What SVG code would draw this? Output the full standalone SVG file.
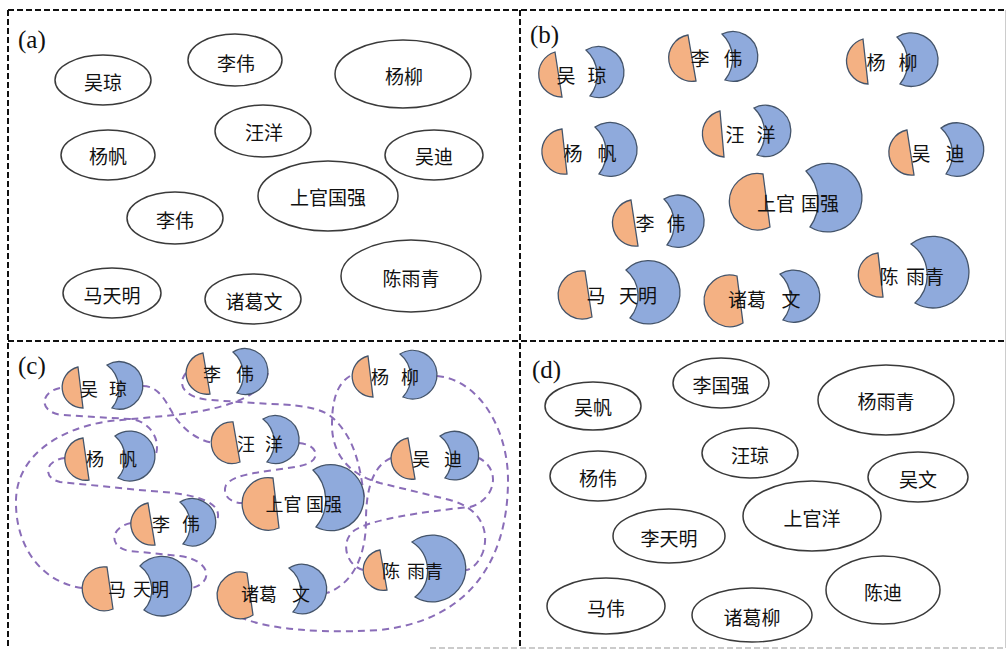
<svg xmlns="http://www.w3.org/2000/svg" width="1007" height="650" viewBox="0 0 1007 650">
<style>
.frame{fill:none;stroke:#111;stroke-width:2;stroke-dasharray:6 3}
.ell{fill:#fff;stroke:#3a3a3a;stroke-width:1.5}
.or{fill:#F4B183;stroke:#44546A;stroke-width:1.3}
.bl{fill:#8FAADC;stroke:#44546A;stroke-width:1.3}
.t{font-family:"Noto Sans CJK SC","Noto Sans",sans-serif;font-size:19px;fill:#111;text-anchor:middle;dominant-baseline:central}
.tc{font-size:18px}
.lab{font-family:"Liberation Serif",serif;font-size:25px;fill:#111}
.link{fill:none;stroke:#8A6DB8;stroke-width:2;stroke-dasharray:7 5}
</style>
<rect width="1007" height="650" fill="#fff"/>
<g id="frame">
<line class="frame" x1="8" y1="10" x2="1005" y2="10"/>
<line class="frame" x1="8" y1="10" x2="8" y2="648"/>
<line class="frame" x1="520" y1="10" x2="520" y2="648"/>
<line class="frame" x1="8" y1="341" x2="1005" y2="341"/>
<line x1="430" y1="648" x2="1005" y2="648" stroke="#bbb" stroke-width="1.5" stroke-dasharray="6 3"/>
<line x1="1005.5" y1="10" x2="1005.5" y2="648" stroke="#ccc" stroke-width="1"/>
</g>
<g id="labels">
<text class="lab" x="18" y="48">(a)</text>
<text class="lab" x="530" y="43">(b)</text>
<text class="lab" x="18" y="374">(c)</text>
<text class="lab" x="532" y="378">(d)</text>
</g>
<g id="panel-a">
<g id="a1"><ellipse class="ell" cx="103" cy="80" rx="48" ry="25"/><text class="t" x="103" y="81">吴琼</text></g>
<g id="a2"><ellipse class="ell" cx="235" cy="60" rx="47" ry="26"/><text class="t" x="236" y="62">李伟</text></g>
<g id="a3"><ellipse class="ell" cx="403" cy="74" rx="68" ry="34"/><text class="t" x="404" y="75">杨柳</text></g>
<g id="a4"><ellipse class="ell" cx="263" cy="131" rx="48" ry="26"/><text class="t" x="264" y="131">汪洋</text></g>
<g id="a5"><ellipse class="ell" cx="108" cy="155" rx="47" ry="25"/><text class="t" x="108" y="155">杨帆</text></g>
<g id="a6"><ellipse class="ell" cx="434" cy="155" rx="49" ry="25"/><text class="t" x="434" y="155">吴迪</text></g>
<g id="a7"><ellipse class="ell" cx="328" cy="196" rx="70" ry="35"/><text class="t" x="328" y="196">上官国强</text></g>
<g id="a8"><ellipse class="ell" cx="175" cy="218" rx="48" ry="26"/><text class="t" x="175" y="219">李伟</text></g>
<g id="a9"><ellipse class="ell" cx="112" cy="293" rx="49" ry="25"/><text class="t" x="112" y="294">马天明</text></g>
<g id="a10"><ellipse class="ell" cx="253" cy="299" rx="48" ry="25"/><text class="t" x="254" y="300">诸葛文</text></g>
<g id="a11"><ellipse class="ell" cx="411" cy="276" rx="70" ry="36"/><text class="t" x="411" y="277">陈雨青</text></g>
</g>
<g id="panel-b">
<g id="b1"><path class="or" d="M555,52 L562,97 A23,23 0 0 1 555,52Z"/><path class="bl" d="M586,50 A25.4,25.4 0 1 1 590,96 A34,34 0 0 0 586,50Z"/><text class="t" x="566" y="74">吴</text><text class="t" x="597" y="74">琼</text></g>
<g id="b2"><path class="or" d="M688,35 L696,81 A23.3,23.3 0 0 1 688,35Z"/><path class="bl" d="M722,34 A24.9,24.9 0 1 1 725,80 A34,34 0 0 0 722,34Z"/><text class="t" x="700" y="57">李</text><text class="t" x="733" y="57">伟</text></g>
<g id="b3"><path class="or" d="M863,39 L868,84 A23,23 0 0 1 863,39Z"/><path class="bl" d="M897,37 A26.8,26.8 0 1 1 900,84 A35,35 0 0 0 897,37Z"/><text class="t" x="876" y="61">杨</text><text class="t" x="908" y="61">柳</text></g>
<g id="b4"><path class="or" d="M562,129 L567,174 A22.6,22.6 0 0 1 562,129Z"/><path class="bl" d="M595,127 A27,27 0 1 1 599,174 A35,35 0 0 0 595,127Z"/><text class="t" x="573" y="152">杨</text><text class="t" x="607" y="152">帆</text></g>
<g id="b5"><path class="or" d="M720,111 L724,157 A23.4,23.4 0 0 1 720,111Z"/><path class="bl" d="M754,108 A25.5,25.5 0 1 1 757,155 A35,35 0 0 0 754,108Z"/><text class="t" x="735" y="133">汪</text><text class="t" x="766" y="133">洋</text></g>
<g id="b6"><path class="or" d="M907,130 L914,175 A22.8,22.8 0 0 1 907,130Z"/><path class="bl" d="M941,128 A26.8,26.8 0 1 1 946,174 A35,35 0 0 0 941,128Z"/><text class="t" x="921" y="152">吴</text><text class="t" x="955" y="152">迪</text></g>
<g id="b7"><path class="or" d="M763,174 L770,227 A28.2,28.2 0 1 1 763,174Z"/><path class="bl" d="M806,171 A34.3,34.3 0 1 1 810,227 A44,44 0 0 0 806,171Z"/><text class="t" x="776" y="202">上官</text><text class="t" x="820" y="202">国强</text></g>
<g id="b8"><path class="or" d="M631,200 L638,246 A23.3,23.3 0 0 1 631,200Z"/><path class="bl" d="M664,199 A26.2,26.2 0 1 1 667,245 A35,35 0 0 0 664,199Z"/><text class="t" x="645" y="222">李</text><text class="t" x="676" y="222">伟</text></g>
<g id="b9"><path class="or" d="M585,271 L592,317 A24.1,24.1 0 1 1 585,271Z"/><path class="bl" d="M626,270 A31.6,31.6 0 1 1 630,318 A34,34 0 0 0 626,270Z"/><text class="t" x="596" y="294">马</text><text class="t" x="638" y="294">天明</text></g>
<g id="b10"><path class="or" d="M737,276 L743,323 A25.8,25.8 0 1 1 737,276Z"/><path class="bl" d="M780,274 A26.1,26.1 0 1 1 783,320 A34,34 0 0 0 780,274Z"/><text class="t" x="747" y="298">诸葛</text><text class="t" x="791" y="298">文</text></g>
<g id="b11"><path class="or" d="M878,253 L883,297 A22.1,22.1 0 0 1 878,253Z"/><path class="bl" d="M911,244 A35.8,35.8 0 1 1 915,303 A38,38 0 0 0 911,244Z"/><text class="t" x="889" y="275">陈</text><text class="t" x="925" y="275">雨青</text></g>
</g>
<g id="connectors">
<path class="link" d="M60,388 C40,392 38,412 62,415 L130,419 C150,421 162,440 155,457"/>
<path class="link" d="M82,588 C40,582 15,545 16,500 C17,455 60,428 110,421 L175,415 C215,410 262,400 268,373"/>
<path class="link" d="M186,373 C176,385 185,398 210,400 L270,404 C310,405 325,410 335,420 C352,437 360,460 364,498"/>
<path class="link" d="M143,386 C158,386 165,400 172,412 C182,430 200,442 215,443"/>
<path class="link" d="M65,458 C45,460 42,478 60,482 L150,491 C205,494 225,505 216,523"/>
<path class="link" d="M299,443 C320,445 322,462 300,466 C270,472 235,472 226,485 C222,495 230,503 242,503"/>
<path class="link" d="M131,523 C110,527 108,548 130,551 L180,556 C210,560 215,582 192,588"/>
<path class="link" d="M437,376 C480,380 508,430 508,480 C508,560 470,620 380,630 C300,635 240,625 228,608"/>
<path class="link" d="M350,376 C335,385 332,405 332,425 C332,455 350,475 380,483 L450,500 C480,508 490,530 483,552 C478,565 470,570 466,570"/>
<path class="link" d="M363,570 C345,565 340,540 355,530 C370,520 420,512 470,507 C495,500 502,470 479,458"/>
<path class="link" d="M391,458 C375,465 366,485 366,520 C366,560 350,585 327,593"/>
</g>
<g id="panel-c">
<g id="c1"><path class="or" d="M78,367 L83,408 A20.8,20.8 0 0 1 78,367Z"/><path class="bl" d="M107,365 A23.7,23.7 0 1 1 112,408 A30,30 0 0 0 107,365Z"/><text class="t tc" x="89" y="388">吴</text><text class="t tc" x="118" y="388">琼</text></g>
<g id="c2"><path class="or" d="M203,353 L210,394 A20.8,20.8 0 0 1 203,353Z"/><path class="bl" d="M233,352 A22.9,22.9 0 1 1 237,393 A30,30 0 0 0 233,352Z"/><text class="t tc" x="212" y="373">李</text><text class="t tc" x="245" y="373">伟</text></g>
<g id="c3"><path class="or" d="M368,356 L373,397 A20.8,20.8 0 0 1 368,356Z"/><path class="bl" d="M400,354 A24.3,24.3 0 1 1 403,397 A30,30 0 0 0 400,354Z"/><text class="t tc" x="380" y="376">杨</text><text class="t tc" x="410" y="376">柳</text></g>
<g id="c4"><path class="or" d="M83,438 L89,480 A21.2,21.2 0 0 1 83,438Z"/><path class="bl" d="M115,436 A25,25 0 1 1 118,478 A30,30 0 0 0 115,436Z"/><text class="t tc" x="95" y="458">杨</text><text class="t tc" x="128" y="458">帆</text></g>
<g id="c5"><path class="or" d="M233,422 L240,462 A20.8,20.8 0 1 1 233,422Z"/><path class="bl" d="M263,419 A23.9,23.9 0 1 1 267,462 A30,30 0 0 0 263,419Z"/><text class="t tc" x="246" y="443">汪</text><text class="t tc" x="274" y="443">洋</text></g>
<g id="c6"><path class="or" d="M408,438 L415,479 A20.8,20.8 0 0 1 408,438Z"/><path class="bl" d="M440,436 A24.3,24.3 0 1 1 445,478 A30,30 0 0 0 440,436Z"/><text class="t tc" x="421" y="458">吴</text><text class="t tc" x="453" y="458">迪</text></g>
<g id="c7"><path class="or" d="M273,478 L279,528 A26.3,26.3 0 1 1 273,478Z"/><path class="bl" d="M313,470 A33,33 0 1 1 316,527 A42,42 0 0 0 313,470Z"/><text class="t tc" x="283.5" y="503">上官</text><text class="t tc" x="324" y="503">国强</text></g>
<g id="c8"><path class="or" d="M148,503 L155,545 A21.3,21.3 0 0 1 148,503Z"/><path class="bl" d="M180,502 A23.6,23.6 0 1 1 183,544 A30,30 0 0 0 180,502Z"/><text class="t tc" x="161" y="523">李</text><text class="t tc" x="191" y="523">伟</text></g>
<g id="c9"><path class="or" d="M107,567 L113,609 A22,22 0 1 1 107,567Z"/><path class="bl" d="M140,566 A29.8,29.8 0 1 1 144,610 A30,30 0 0 0 140,566Z"/><text class="t tc" x="117" y="588">马</text><text class="t tc" x="151" y="588">天明</text></g>
<g id="c10"><path class="or" d="M247,573 L253,615 A23.3,23.3 0 1 1 247,573Z"/><path class="bl" d="M289,568 A24.7,24.7 0 1 1 293,612 A30,30 0 0 0 289,568Z"/><text class="t tc" x="259" y="593">诸葛</text><text class="t tc" x="301" y="593">文</text></g>
<g id="c11"><path class="or" d="M380,550 L387,590 A20.3,20.3 0 0 1 380,550Z"/><path class="bl" d="M412,542 A33.4,33.4 0 1 1 415,597 A34,34 0 0 0 412,542Z"/><text class="t tc" x="391" y="570">陈</text><text class="t tc" x="425" y="570">雨青</text></g>
</g>
<g id="panel-d">
<g id="d1"><ellipse class="ell" cx="593" cy="406" rx="48" ry="24"/><text class="t" x="593" y="406">吴帆</text></g>
<g id="d2"><ellipse class="ell" cx="721" cy="383" rx="48" ry="25"/><text class="t" x="721" y="384">李国强</text></g>
<g id="d3"><ellipse class="ell" cx="886" cy="400" rx="68" ry="35"/><text class="t" x="886" y="400">杨雨青</text></g>
<g id="d4"><ellipse class="ell" cx="750" cy="453" rx="48" ry="25"/><text class="t" x="750" y="454">汪琼</text></g>
<g id="d5"><ellipse class="ell" cx="598" cy="476" rx="48" ry="25"/><text class="t" x="598" y="477">杨伟</text></g>
<g id="d6"><ellipse class="ell" cx="918" cy="477" rx="50" ry="25"/><text class="t" x="918" y="478">吴文</text></g>
<g id="d7"><ellipse class="ell" cx="812" cy="516" rx="69" ry="35"/><text class="t" x="812" y="517">上官洋</text></g>
<g id="d8"><ellipse class="ell" cx="669" cy="536" rx="56" ry="27"/><text class="t" x="669" y="537">李天明</text></g>
<g id="d9"><ellipse class="ell" cx="606" cy="606" rx="59" ry="28"/><text class="t" x="606" y="607">马伟</text></g>
<g id="d10"><ellipse class="ell" cx="752" cy="615" rx="60" ry="27"/><text class="t" x="752" y="616">诸葛柳</text></g>
<g id="d11"><ellipse class="ell" cx="883" cy="590" rx="57" ry="34"/><text class="t" x="883" y="591">陈迪</text></g>
</g>
</svg>
